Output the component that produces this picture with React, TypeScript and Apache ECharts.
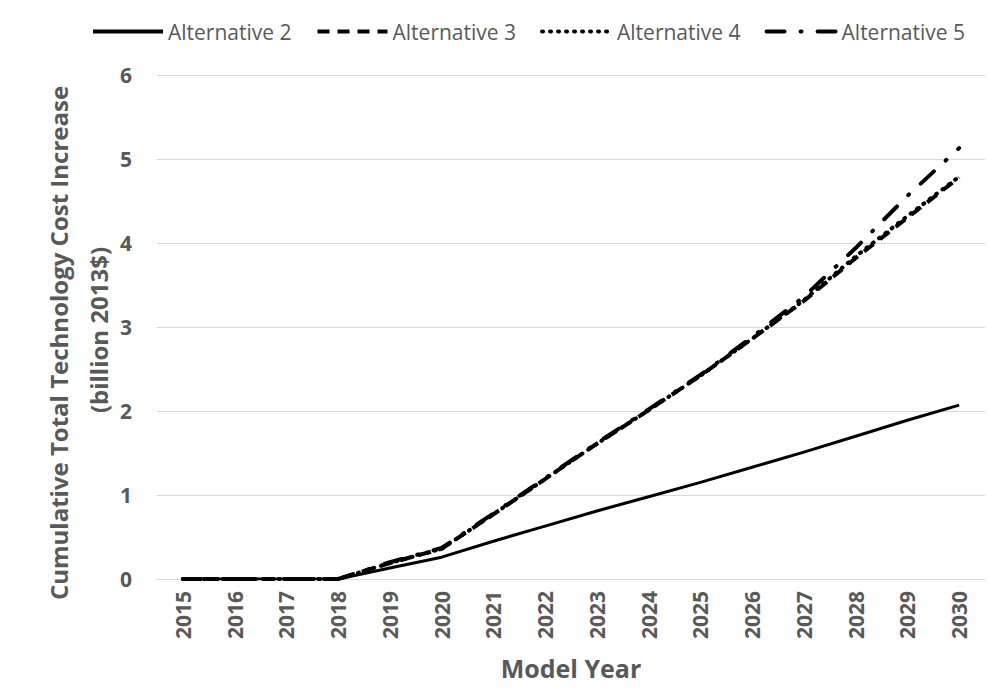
import React, { useEffect, useRef } from "react";
import * as echarts from "echarts";

const years = ["2015","2016","2017","2018","2019","2020","2021","2022","2023","2024","2025","2026","2027","2028","2029","2030"];
const alt2 = [0,0,0,0,0.13,0.26,0.45,0.63,0.81,0.98,1.15,1.33,1.51,1.70,1.89,2.07];
const alt3 = [0,0,0,0,0.19,0.36,0.77,1.19,1.61,2.01,2.42,2.86,3.31,3.82,4.30,4.78];
const alt4 = [0,0,0,0,0.19,0.36,0.77,1.19,1.61,2.01,2.42,2.86,3.32,3.84,4.32,4.79];
const alt5 = [0,0,0,0,0.20,0.37,0.78,1.20,1.62,2.02,2.43,2.88,3.36,3.94,4.56,5.13];
const yTicks = [0, 6, 1];
const yTitle1 = "Cumulative Total Technology Cost Increase";
const yTitle2 = "(billion 2013$)";

const FONT = "'Open Sans', sans-serif";
const GRAY = "#595959";

export default function App() {
  const ref = useRef<HTMLDivElement>(null);
  useEffect(() => {
    if (!ref.current) return;
    const chart = echarts.init(ref.current, null, { renderer: "svg" });
    const mk = (name: string, data: number[], type: any, width: number, z: number, cap: any) => ({
      name,
      type: "line",
      data,
      symbol: "none",
      showSymbol: false,
      z,
      lineStyle: { color: "#000", width, type, cap, join: "round" },
      itemStyle: { color: "#000" },
    });
    const titleStyle = {
      fontFamily: FONT,
      fontWeight: "bold",
      fontSize: 24,
      fill: GRAY,
      align: "center",
      verticalAlign: "middle",
    };
    chart.setOption({
      animation: false,
      backgroundColor: "#fff",
      legend: {
        top: 16,
        left: 86,
        itemWidth: 70,
        itemHeight: 14,
        itemGap: 24,
        itemStyle: { opacity: 0 },
        lineStyle: { width: 4 },
        textStyle: { fontFamily: FONT, fontSize: 21, color: GRAY },
        data: ["Alternative 2", "Alternative 3", "Alternative 4", "Alternative 5"],
      },
      grid: { left: 157, right: 3, top: 75, bottom: 110, containLabel: false },
      graphic: [
        { type: "text", x: 58, y: 343, rotation: Math.PI / 2, style: { ...titleStyle, text: yTitle1 } },
        { type: "text", x: 98, y: 330, rotation: Math.PI / 2, style: { ...titleStyle, text: yTitle2 } },
      ],
      xAxis: {
        type: "category",
        data: years,
        boundaryGap: true,
        axisLine: { show: true, lineStyle: { color: "#d9d9d9", width: 1 } },
        axisTick: { show: false },
        axisLabel: {
          rotate: 90,
          margin: 12,
          color: GRAY,
          fontFamily: FONT,
          fontWeight: "bold",
          fontSize: 21,
        },
        name: "Model Year",
        nameLocation: "middle",
        nameGap: 76,
        nameTextStyle: { fontFamily: FONT, fontWeight: "bold", fontSize: 25, color: GRAY },
      },
      yAxis: {
        type: "value",
        min: yTicks[0],
        max: yTicks[1],
        interval: yTicks[2],
        axisLine: { show: false },
        axisTick: { show: false },
        splitLine: { lineStyle: { color: "#d9d9d9", width: 1 } },
        axisLabel: {
          margin: 25,
          color: GRAY,
          fontFamily: FONT,
          fontWeight: "bold",
          fontSize: 21,
        },
      },
      series: [
        mk("Alternative 2", alt2, "solid", 3, 2, "butt"),
        mk("Alternative 3", alt3, [12, 8], 4, 4, "butt"),
        mk("Alternative 4", alt4, [1, 7], 4, 3, "round"),
        mk("Alternative 5", alt5, [18, 16, 1, 16], 4, 5, "round"),
      ],
    });
    return () => chart.dispose();
  }, []);
  return <div ref={ref} style={{ position: "fixed", left: 0, top: 0, width: 988, height: 689 }} />;
}
